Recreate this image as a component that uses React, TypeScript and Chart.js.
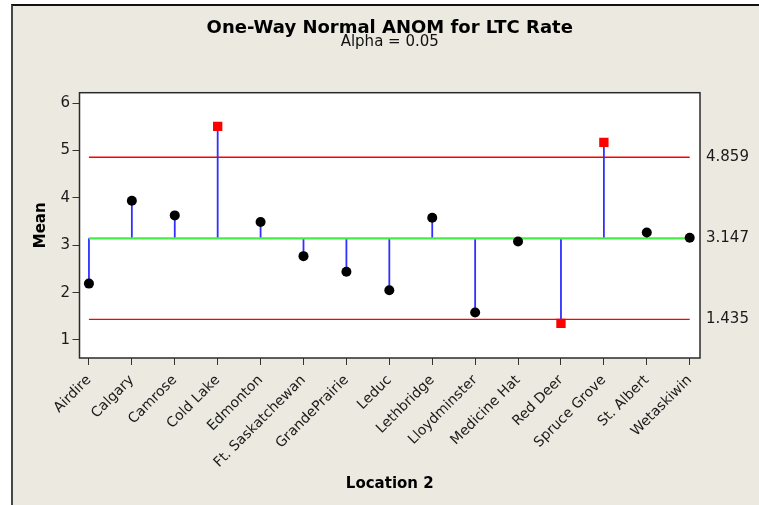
import React, { useEffect, useRef } from 'react';
import { Chart, registerables } from 'chart.js';

Chart.register(...registerables);

const locations = [
  'Airdire', 'Calgary', 'Camrose', 'Cold Lake', 'Edmonton', 'Ft. Saskatchewan',
  'GrandePrairie', 'Leduc', 'Lethbridge', 'Lloydminster', 'Medicine Hat',
  'Red Deer', 'Spruce Grove', 'St. Albert', 'Wetaskiwin',
];
const means = [2.19, 3.94, 3.63, 5.51, 3.49, 2.77, 2.44, 2.05, 3.58, 1.58, 3.08, 1.35, 5.17, 3.27, 3.16];
const centerLine = 3.147;
const upperLimit = 4.859;
const lowerLimit = 1.435;
const yTicks = [1, 2, 3, 4, 5, 6];
const limitLabels = [lowerLimit, centerLine, upperLimit];

const FONT = 'DejaVu Sans';

const framePlugin = {
  id: 'plotFrame',
  beforeDraw(chart: any) {
    const { ctx, chartArea: a } = chart;
    ctx.save();
    ctx.fillStyle = '#ffffff';
    ctx.fillRect(a.left, a.top, a.right - a.left, a.bottom - a.top);
    ctx.restore();
  },
  afterDraw(chart: any) {
    const { ctx, chartArea: a } = chart;
    ctx.save();
    ctx.strokeStyle = '#2b2b2b';
    ctx.lineWidth = 1.5;
    ctx.strokeRect(a.left, a.top, a.right - a.left, a.bottom - a.top);
    ctx.restore();
  },
};

export default function App() {
  const ref = useRef<HTMLCanvasElement | null>(null);

  useEffect(() => {
    if (!ref.current) return;
    const last = locations.length - 1;
    const outside = (v: number) => v > upperLimit || v < lowerLimit;
    const stems: any[] = [];
    means.forEach((v, i) => {
      stems.push({ x: i, y: centerLine });
      stems.push({ x: i, y: v });
      stems.push({ x: i, y: null });
    });

    const chart = new Chart(ref.current, {
      type: 'scatter',
      data: {
        datasets: [
          {
            label: 'Means',
            data: means.map((v, i) => ({ x: i, y: v })),
            showLine: false,
            pointStyle: means.map((v) => (outside(v) ? 'rect' : 'circle')) as any,
            pointRadius: means.map((v) => (outside(v) ? 6.6 : 5)),
            pointBackgroundColor: means.map((v) => (outside(v) ? '#ff0000' : '#000000')),
            pointBorderColor: means.map((v) => (outside(v) ? '#ff0000' : '#000000')),
            pointBorderWidth: 0,
          },
          {
            label: 'Center',
            data: [{ x: 0, y: centerLine }, { x: last, y: centerLine }],
            showLine: true,
            borderColor: '#44ee44',
            borderWidth: 2.2,
            pointRadius: 0,
          },
          {
            label: 'Stems',
            data: stems,
            showLine: true,
            spanGaps: false,
            borderColor: '#3030ff',
            borderWidth: 1.8,
            pointRadius: 0,
          },
          {
            label: 'UDL',
            data: [{ x: 0, y: upperLimit }, { x: last, y: upperLimit }],
            showLine: true,
            borderColor: '#ff0000',
            borderWidth: 1.4,
            pointRadius: 0,
          },
          {
            label: 'LDL',
            data: [{ x: 0, y: lowerLimit }, { x: last, y: lowerLimit }],
            showLine: true,
            borderColor: '#ff0000',
            borderWidth: 1.4,
            pointRadius: 0,
          },
        ],
      },
      options: {
        responsive: false,
        animation: false,
        devicePixelRatio: 1,
        layout: { padding: 0 },
        plugins: {
          legend: { display: false },
          tooltip: { enabled: false },
          title: {
            display: true,
            text: 'One-Way Normal ANOM for LTC Rate',
            fullSize: false,
            color: '#000000',
            font: { family: FONT, size: 18, weight: 'bold', lineHeight: 0.6 },
            padding: { top: 22.7, bottom: 0 },
          },
          subtitle: {
            display: true,
            text: 'Alpha = 0.05',
            fullSize: false,
            color: '#111111',
            font: { family: FONT, size: 15, lineHeight: 0.6 },
            padding: { top: 4.2, bottom: 46 },
          },
        },
        scales: {
          x: {
            type: 'linear',
            position: 'bottom',
            min: -0.22,
            max: 14.24,
            afterBuildTicks: (s: any) => {
              s.ticks = locations.map((_, i) => ({ value: i }));
            },
            afterFit: (s: any) => {
              s.height = 147;
            },
            ticks: {
              autoSkip: false,
              maxRotation: 45,
              minRotation: 45,
              padding: 7,
              color: '#1a1a1a',
              font: { family: FONT, size: 14 },
              callback: (v: any) => locations[v as number],
            },
            grid: { drawOnChartArea: false, drawTicks: true, tickLength: 7, color: '#333333' },
            border: { display: false },
            title: {
              display: true,
              text: 'Location 2',
              color: '#000000',
              font: { family: FONT, size: 15, weight: 'bold' },
              padding: { top: 0, bottom: 12 },
            },
          },
          y: {
            type: 'linear',
            position: 'left',
            min: 0.62,
            max: 6.22,
            afterBuildTicks: (s: any) => {
              s.ticks = yTicks.map((v) => ({ value: v }));
            },
            afterFit: (s: any) => {
              s.width = 79.5;
            },
            ticks: {
              padding: 2.5,
              color: '#1a1a1a',
              font: { family: FONT, size: 15 },
            },
            grid: { drawOnChartArea: false, drawTicks: true, tickLength: 7, color: '#333333' },
            border: { display: false },
            title: {
              display: true,
              text: 'Mean',
              color: '#000000',
              font: { family: FONT, size: 15, weight: 'bold' },
              padding: { top: 32.5, bottom: 0 },
            },
          },
          yLimits: {
            type: 'linear',
            position: 'right',
            min: 0.62,
            max: 6.22,
            afterBuildTicks: (s: any) => {
              s.ticks = limitLabels.map((v) => ({ value: v }));
            },
            afterFit: (s: any) => {
              s.width = 59;
            },
            ticks: {
              padding: 6,
              color: '#1a1a1a',
              font: { family: FONT, size: 15 },
              callback: (v: any) => Number(v).toFixed(3),
            },
            grid: { display: false, drawOnChartArea: false, drawTicks: false },
            border: { display: false },
          },
        },
      } as any,
      plugins: [framePlugin],
    });

    return () => chart.destroy();
  }, []);

  return (
    <div style={{ position: 'fixed', left: 0, top: 0, width: 759, height: 505, background: '#ffffff', overflow: 'hidden' }}>
      <div
        style={{
          position: 'absolute',
          left: 11,
          top: 4,
          width: 748,
          height: 501,
          boxSizing: 'border-box',
          background: '#ECE9E0',
          borderLeft: '2px solid #474747',
          borderTop: '2px solid #111111',
        }}
      />
      <canvas ref={ref} width={759} height={505} style={{ position: 'absolute', left: 0, top: 0 }} />
    </div>
  );
}
